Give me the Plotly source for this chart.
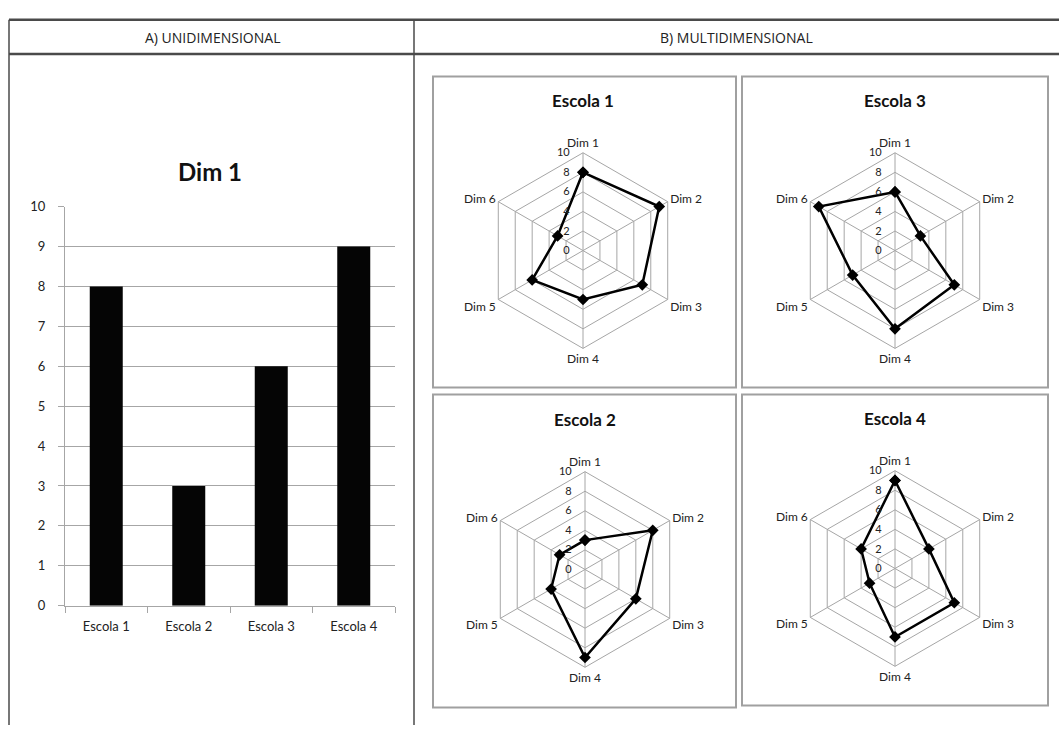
import plotly.graph_objects as go

# Data
escolas = ["Escola 1", "Escola 2", "Escola 3", "Escola 4"]
dim1_scores = [8, 3, 6, 9]
dims = ["Dim 1", "Dim 2", "Dim 3", "Dim 4", "Dim 5", "Dim 6"]
escola1 = [8, 9, 7, 5, 6, 3]
escola2 = [3, 8, 6, 9, 4, 3]
escola3 = [6, 3, 7, 8, 5, 9]
escola4 = [9, 4, 7, 7, 3, 4]
header_labels = ["A) UNIDIMENSIONAL", "B) MULTIDIMENSIONAL"]

W, H = 1059, 733
FONT = "Lato"
HEAD_FONT = "Open Sans"
GRID = "#a6a6a6"


def px(x):
    return x / W


def py(y):
    return 1 - y / H


def label(x, y, text, size, color="#222", family=FONT):
    return dict(x=px(x), y=py(y), xref="paper", yref="paper", text=text,
                xanchor="center", yanchor="middle", showarrow=False,
                font=dict(family=family, size=size, color=color))


fig = go.Figure()

# Left panel: bar chart for Dim 1
fig.add_trace(go.Bar(
    x=escolas, y=dim1_scores, marker=dict(color="#050505", line=dict(width=0)),
    xaxis="x", yaxis="y", showlegend=False,
))

# Right panel: one radar per school
radars = [
    ("Escola 1", escola1, 583, 248),
    ("Escola 3", escola3, 895, 248),
    ("Escola 2", escola2, 585, 574),
    ("Escola 4", escola4, 895, 573),
]
R = 100
layout_polars = {}
annotations = []
for i, (name, vals, cx, cy) in enumerate(radars):
    key = "polar" if i == 0 else f"polar{i + 1}"
    fig.add_trace(go.Scatterpolar(
        r=vals + vals[:1], theta=dims + dims[:1], subplot=key,
        mode="lines+markers", showlegend=False,
        line=dict(color="#000000", width=2.5),
        marker=dict(symbol="diamond", size=9, color="#000000"),
    ))
    layout_polars[key] = dict(
        domain=dict(x=[px(cx - R), px(cx + R)], y=[py(cy + R), py(cy - R)]),
        bgcolor="rgba(0,0,0,0)",
        gridshape="linear",
        angularaxis=dict(
            type="category", categoryarray=dims, rotation=90, direction="clockwise",
            showline=True, linecolor=GRID, linewidth=1, gridcolor=GRID, ticks="",
            tickfont=dict(family=FONT, size=12, color="#222"),
        ),
        radialaxis=dict(
            range=[0, 10], dtick=2, angle=90, tickangle=90, showline=False,
            gridcolor=GRID, ticks="outside", ticklen=9, tickcolor="rgba(0,0,0,0)",
            side="counterclockwise",
            tickfont=dict(family=FONT, size=11, color="#222"),
        ),
    )
    annotations.append(label(cx, cy - 153, f"<b>{name}</b>", 17, "#111"))

# Chart boxes in the right panel
boxes = [(433, 70, 736, 388), (742, 70, 1048, 388), (433, 395, 736, 715), (742, 395, 1048, 713)]
shapes = []
for x0, y0, x1, y1 in boxes:
    shapes.append(dict(type="rect", xref="paper", yref="paper", layer="below",
                       x0=px(x0), x1=px(x1), y0=py(y1), y1=py(y0),
                       fillcolor="white", line=dict(color="#a0a0a0", width=2)))

# Table frame
line_col = "#4a4a4a"
shapes += [
    dict(type="line", xref="paper", yref="paper", x0=px(9), x1=1, y0=py(12), y1=py(12),
         line=dict(color=line_col, width=2.5)),
    dict(type="line", xref="paper", yref="paper", x0=px(9), x1=1, y0=py(47), y1=py(47),
         line=dict(color=line_col, width=2.5)),
    dict(type="line", xref="paper", yref="paper", x0=px(9), x1=px(9), y0=py(12), y1=0,
         line=dict(color=line_col, width=1.5)),
    dict(type="line", xref="paper", yref="paper", x0=px(414), x1=px(414), y0=py(12), y1=0,
         line=dict(color=line_col, width=1.5)),
]

annotations += [
    label(212, 30, header_labels[0], 14, "#222", HEAD_FONT),
    label(736, 30, header_labels[1], 14, "#222", HEAD_FONT),
    label(210, 167, "<b>Dim 1</b>", 24, "#111"),
]

fig.update_layout(
    width=W, height=H, margin=dict(l=0, r=0, t=0, b=0),
    paper_bgcolor="white", plot_bgcolor="white",
    bargap=0.6,
    xaxis=dict(domain=[px(65), px(395)], anchor="y", showline=True, linecolor=GRID,
               ticks="outside", tickson="boundaries", ticklen=6, tickcolor=GRID,
               showgrid=False, ticklabelstandoff=9,
               tickfont=dict(family=FONT, size=13, color="#222")),
    yaxis=dict(domain=[py(611), py(203)], anchor="x", range=[0, 10], dtick=1,
               showline=True, linecolor=GRID, gridcolor=GRID, ticks="outside",
               ticklen=6, tickcolor=GRID, zeroline=False, ticklabelstandoff=10,
               tickfont=dict(family=FONT, size=13, color="#222")),
    shapes=shapes, annotations=annotations,
    **layout_polars,
)

fig.write_html("out.html")
